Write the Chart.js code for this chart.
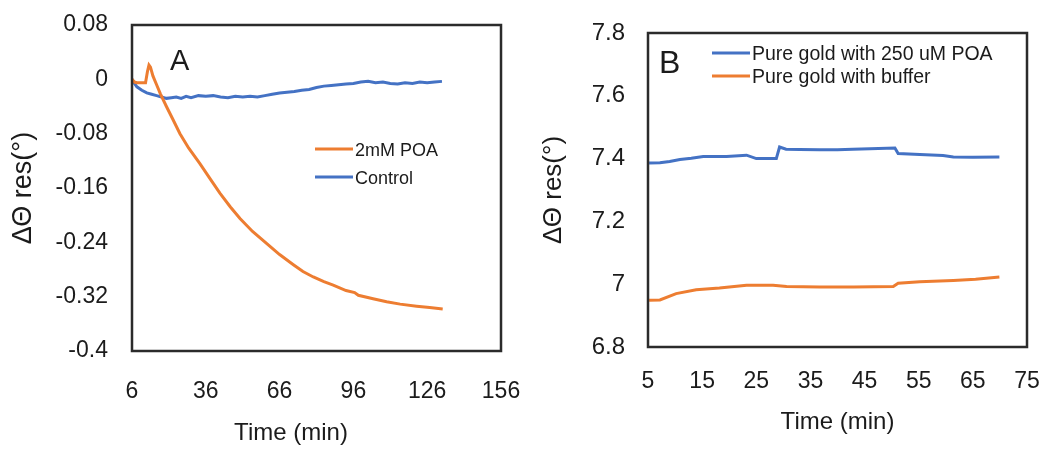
<!DOCTYPE html>
<html>
<head>
<meta charset="utf-8">
<script src="https://cdn.jsdelivr.net/npm/chart.js@4.4.1/dist/chart.umd.min.js"></script>
<style>
  html, body { margin: 0; padding: 0; background: #fff; }
  #wrap { position: relative; width: 1045px; height: 452px; }
  .panel { position: absolute; top: 0; height: 452px; }
  #panelA { left: 0; width: 520px; }
  #panelB { left: 520px; width: 525px; }
</style>
</head>
<body>
<div id="wrap">
  <div class="panel" id="panelA"><canvas id="chartA" width="520" height="452"></canvas></div>
  <div class="panel" id="panelB"><canvas id="chartB" width="525" height="452"></canvas></div>
</div>
<script>
// == Panel A : 2mM POA vs Control == //
const poaTime = [6, 7, 8, 10, 11.5, 12.3, 12.9, 13.5, 14.5, 16, 17.5, 20, 22.5, 25.5, 29, 33.6, 37.5, 41.8, 46, 49.9,
    55, 60.8, 66, 71.6, 75.5, 79.7, 84, 87.8, 93, 96.5, 98, 104, 109.5, 115, 121.7, 127, 132.3];
const poaValue = [0, -0.004, -0.005, -0.005, -0.005, 0.012, 0.021, 0.018, 0.005, -0.008, -0.021, -0.040, -0.058, -0.080,
    -0.101, -0.124, -0.145, -0.168, -0.188, -0.205, -0.224, -0.242, -0.258, -0.273, -0.283, -0.291, -0.298, -0.303,
    -0.311, -0.314, -0.318, -0.323, -0.3275, -0.331, -0.334, -0.336, -0.338];

const ctrlTime = [6, 7, 8, 10, 12, 14, 16, 18, 20, 22, 24, 26, 28, 30, 33, 36, 39, 42, 45, 48, 51, 54, 57, 60, 63, 66,
    69, 72, 75, 78, 81, 84, 87, 90, 93, 96, 99, 102, 105, 108, 111, 114, 117, 120, 123, 126, 129, 132];
const ctrlValue = [0, -0.006, -0.011, -0.016, -0.020, -0.022, -0.024, -0.026, -0.028, -0.027, -0.026, -0.028, -0.025,
    -0.027, -0.024, -0.025, -0.024, -0.026, -0.027, -0.025, -0.026, -0.025, -0.026, -0.024, -0.022, -0.020, -0.019,
    -0.018, -0.016, -0.015, -0.012, -0.010, -0.009, -0.008, -0.007, -0.006, -0.004, -0.003, -0.005, -0.004, -0.006,
    -0.007, -0.005, -0.006, -0.004, -0.005, -0.004, -0.003];

const xTicksA = [6, 36, 66, 96, 126, 156];
const yTicksA = [-0.4, -0.32, -0.24, -0.16, -0.08, 0, 0.08];

// == Panel B : pure gold == //
const goldPoaTime = [5.2, 7.2, 9, 10.9, 13, 15.2, 19.5, 23.2, 25, 28.7, 29.3, 30.5, 33, 36.7, 40, 42.8, 46, 50.6,
    51.2, 55.2, 59.5, 61.4, 65, 69.9];
const goldPoaValue = [7.386, 7.387, 7.391, 7.397, 7.401, 7.407, 7.407, 7.411, 7.400, 7.400, 7.437, 7.430, 7.429,
    7.428, 7.428, 7.430, 7.431, 7.434, 7.416, 7.413, 7.410, 7.405, 7.404, 7.405];

const goldBufTime = [5.2, 7.2, 10.2, 13.9, 18.2, 23.2, 28.1, 30.6, 36.7, 43, 50.3, 51.2, 55.2, 61.4, 65.5, 69.9];
const goldBufValue = [6.949, 6.950, 6.970, 6.982, 6.988, 6.997, 6.997, 6.993, 6.991, 6.991, 6.993, 7.003, 7.008,
    7.012, 7.016, 7.023];

const xTicksB = [5, 15, 25, 35, 45, 55, 65, 75];
const yTicksB = [6.8, 7, 7.2, 7.4, 7.6, 7.8];

const BLUE = "#4472C4";
const ORANGE = "#ED7D31";
const INK = "#1b1b1b";
const FONT = "'Liberation Sans', Arial, sans-serif";

function toPoints(xs, ys) {
    return xs.map((x, i) => ({ x: x, y: ys[i] }));
}

function fmt(v) {
    return String(Number(v.toFixed(2)));
}

// frame, panel letter, legend and (optionally) a free x title
const panelDecor = {
    id: "panelDecor",
    afterDatasetsDraw(chart, args, o) {
        const { ctx, chartArea: a } = chart;
        ctx.save();
        ctx.strokeStyle = "#2b2b2b";
        ctx.lineWidth = 2.5;
        ctx.strokeRect(a.left, a.top, a.right - a.left, a.bottom - a.top);

        ctx.fillStyle = INK;
        ctx.textAlign = "left";
        ctx.textBaseline = "alphabetic";
        ctx.font = o.letterSize + "px " + FONT;
        ctx.fillText(o.letter, o.letterX, o.letterY);

        ctx.font = o.legendSize + "px " + FONT;
        o.legendOrder.forEach((di, k) => {
            const ds = chart.data.datasets[di];
            const y = o.legendY + k * o.legendGap;
            ctx.strokeStyle = ds.borderColor;
            ctx.lineWidth = 3;
            ctx.beginPath();
            ctx.moveTo(o.legendX, y);
            ctx.lineTo(o.legendX + 38, y);
            ctx.stroke();
            ctx.fillText(ds.label, o.legendX + 40, y + 7);
        });

        if (o.xTitle) {
            ctx.font = "24px " + FONT;
            ctx.textAlign = "center";
            ctx.textBaseline = "middle";
            ctx.fillText(o.xTitle, o.xTitleX, o.xTitleY);
        }
        ctx.restore();
    }
};

function axisX(min, max, ticks, pad, height, size, title) {
    return {
        type: "linear", min: min, max: max,
        afterBuildTicks: s => { s.ticks = ticks.map(v => ({ value: v })); },
        afterFit: s => { s.height = height; s.paddingLeft = 0; s.paddingRight = 0; },
        ticks: { autoSkip: false, maxRotation: 0, padding: pad, color: INK, font: { family: FONT, size: size } },
        grid: { display: false, drawTicks: false },
        border: { display: false },
        title: title
    };
}

function axisY(min, max, ticks, pad, width, size, title) {
    return {
        type: "linear", min: min, max: max,
        afterBuildTicks: s => { s.ticks = ticks.map(v => ({ value: v })); },
        afterFit: s => { s.width = width; s.paddingTop = 0; s.paddingBottom = 0; },
        ticks: { autoSkip: false, padding: pad, color: INK, font: { family: FONT, size: size }, callback: v => fmt(v) },
        grid: { display: false, drawTicks: false },
        border: { display: false },
        title: title
    };
}

function line(label, data, color) {
    return { label: label, data: data, borderColor: color, backgroundColor: color, borderWidth: 3, pointRadius: 0, tension: 0, fill: false };
}

new Chart(document.getElementById("chartA"), {
    type: "line",
    data: {
        datasets: [
            line("2mM POA", toPoints(poaTime, poaValue), ORANGE),
            line("Control", toPoints(ctrlTime, ctrlValue), BLUE)
        ]
    },
    options: {
        responsive: false,
        animation: false,
        layout: { padding: { top: 25, right: 19, left: 0, bottom: 0 } },
        plugins: {
            legend: { display: false },
            tooltip: { enabled: false },
            panelDecor: {
                letter: "A", letterSize: 29, letterX: 170, letterY: 70,
                legendOrder: [0, 1], legendX: 315, legendY: 149, legendGap: 28, legendSize: 18,
                xTitle: "Time (min)", xTitleX: 291, xTitleY: 433
            }
        },
        scales: {
            x: axisX(6, 156, xTicksA, 27, 101, 23, { display: false }),
            y: axisY(-0.4, 0.08, yTicksA, 24, 132, 23, {
                display: true, text: "ΔΘ res(°)", color: INK, font: { family: FONT, size: 27 }, padding: { top: 7, bottom: 0 }
            })
        }
    },
    plugins: [panelDecor]
});

new Chart(document.getElementById("chartB"), {
    type: "line",
    data: {
        datasets: [
            line("Pure gold with 250 uM POA", toPoints(goldPoaTime, goldPoaValue), BLUE),
            line("Pure gold with buffer", toPoints(goldBufTime, goldBufValue), ORANGE)
        ]
    },
    options: {
        responsive: false,
        animation: false,
        layout: { padding: { top: 33, right: 18, left: 0, bottom: 0 } },
        plugins: {
            legend: { display: false },
            tooltip: { enabled: false },
            panelDecor: {
                letter: "B", letterSize: 32, letterX: 139, letterY: 73,
                legendOrder: [0, 1], legendX: 192, legendY: 53, legendGap: 23, legendSize: 19.5
            }
        },
        scales: {
            x: axisX(5, 75, xTicksB, 21, 105, 23, {
                display: true, text: "Time (min)", color: INK, font: { family: FONT, size: 24 }, padding: { top: 0, bottom: 15 }
            }),
            y: axisY(6.8, 7.8, yTicksB, 23, 128, 24, {
                display: true, text: "ΔΘ res(°)", color: INK, font: { family: FONT, size: 26 }, padding: { top: 18, bottom: 0 }
            })
        }
    },
    plugins: [panelDecor]
});
</script>
</body>
</html>
